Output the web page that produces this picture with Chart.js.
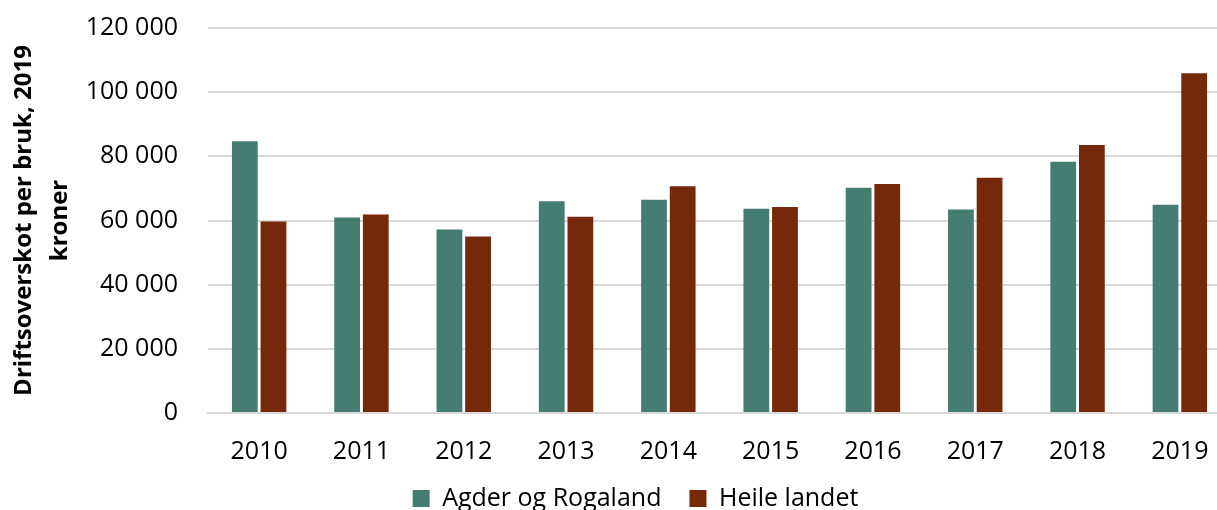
<!DOCTYPE html>
<html>
<head>
<meta charset="utf-8">
<script src="https://cdn.jsdelivr.net/npm/chart.js@4"></script>
<style>
  html, body { margin: 0; padding: 0; background: #fff; overflow: hidden; }
  #wrap { width: 1231px; height: 538px; margin-top: -17px; }
</style>
</head>
<body>
<div id="wrap"><canvas id="chart"></canvas></div>
<script>
const years = ['2010', '2011', '2012', '2013', '2014', '2015', '2016', '2017', '2018', '2019'];
const agderRogaland = [84700, 60900, 57200, 66000, 66500, 63700, 70200, 63400, 78300, 64900];
const heileLandet = [59700, 61900, 55000, 61200, 70700, 64200, 71400, 73300, 83500, 105900];
const yTicks = [0, 20000, 40000, 60000, 80000, 100000, 120000];

const font = "'Open Sans', sans-serif";

function fmt(v) {
  return String(v).replace(/\B(?=(\d{3})+(?!\d))/g, ' ');
}

new Chart(document.getElementById('chart'), {
  type: 'bar',
  data: {
    labels: years,
    datasets: [
      { label: 'Agder og Rogaland', data: agderRogaland, backgroundColor: '#467d73' },
      { label: 'Heile landet', data: heileLandet, backgroundColor: '#76280b' }
    ]
  },
  options: {
    responsive: true,
    maintainAspectRatio: false,
    animation: false,
    categoryPercentage: 0.56,
    barPercentage: 0.9,
    // extra left padding pushes the legend right; y axis width below makes up for it
    layout: { padding: { left: 40, top: 0, right: 0, bottom: 0 } },
    plugins: {
      tooltip: { enabled: false },
      legend: {
        position: 'bottom',
        labels: {
          font: { family: font, size: 25 },
          color: '#000',
          boxWidth: 17,
          boxHeight: 17,
          padding: 3,
          generateLabels: chart => {
            const items = Chart.defaults.plugins.legend.labels.generateLabels(chart);
            // wider gap between the two entries, like the original
            items[0].text = items[0].text + '\u2002\u2002';
            return items;
          }
        }
      }
    },
    scales: {
      x: {
        grid: { display: false },
        border: { color: '#d9d9d9', width: 2 },
        ticks: { font: { family: font, size: 25 }, color: '#000', padding: 16 }
      },
      y: {
        min: 0,
        max: 120000,
        afterBuildTicks: axis => { axis.ticks = yTicks.map(v => ({ value: v })); },
        afterFit: axis => { axis.width = 168; },
        grid: { color: '#d9d9d9', lineWidth: 2, drawTicks: false },
        border: { display: false },
        ticks: {
          font: { family: font, size: 25 },
          color: '#000',
          padding: 30,
          callback: v => fmt(v)
        },
        title: {
          display: true,
          text: ['Driftsoverskot per bruk, 2019', 'kroner'],
          font: { family: font, size: 24, weight: 'bold', lineHeight: 1.5 },
          color: '#000',
          padding: { top: -34, bottom: 0 }
        }
      }
    }
  }
});
</script>
</body>
</html>
